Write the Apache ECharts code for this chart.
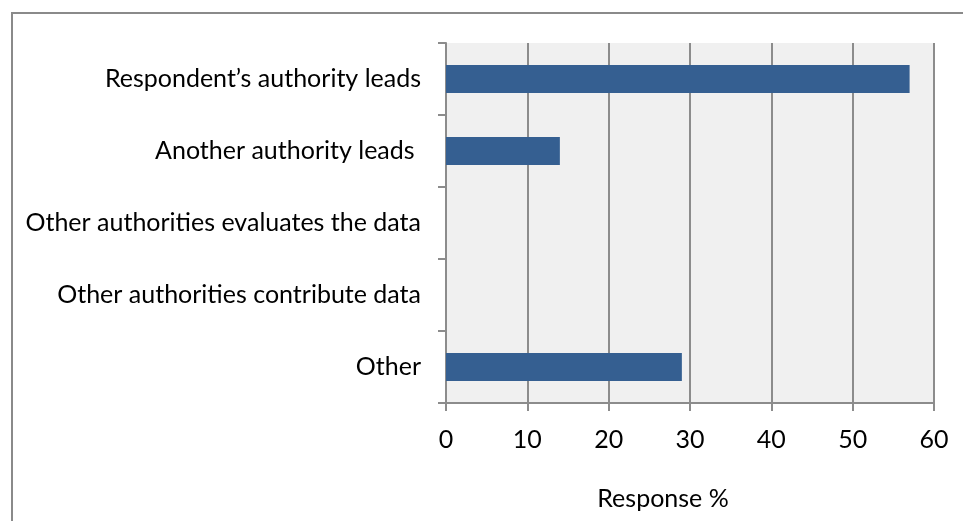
<!DOCTYPE html>
<html>
<head>
<meta charset="utf-8">
<script src="https://cdn.jsdelivr.net/npm/echarts@6/dist/echarts.min.js"></script>
<style>
html,body{margin:0;padding:0;background:#fff;}
#c{width:963px;height:521px;position:relative;}
#frame{position:absolute;left:11px;top:12px;width:960px;height:520px;border-left:2px solid #8a8a8a;border-top:2px solid #8a8a8a;box-sizing:border-box;pointer-events:none;}
</style>
</head>
<body>
<div id="c"></div>
<div id="frame"></div>
<script>
const categories = [
  "Respondent\u2019s authority leads",
  "Another authority leads ",
  "Other authorities evaluates the data",
  "Other authorities contribute data",
  "Other"
];
const values = [57, 14, 0, 0, 29];
const xTicks = [0, 10, 20, 30, 40, 50, 60];
const xTitle = "Response %";

const chart = echarts.init(document.getElementById('c'));
const font = "Lato, 'Open Sans', sans-serif";
chart.setOption({
  animation: false,
  grid: {left: 446, right: 29, top: 43, bottom: 118, containLabel: false,
         show: true, backgroundColor: '#f0f0f0', borderWidth: 0},
  xAxis: {
    type: 'value', min: xTicks[0], max: xTicks[xTicks.length - 1], interval: 10,
    name: xTitle, nameLocation: 'middle', nameGap: 83,
    nameTextStyle: {fontFamily: font, fontSize: 25, color: '#000', padding: [0, 54, 0, 0]},
    axisLine: {show: true, lineStyle: {color: '#8c8c8c', width: 2}},
    axisTick: {show: true, length: 8, lineStyle: {color: '#8c8c8c', width: 2}},
    axisLabel: {fontFamily: font, fontSize: 25, color: '#000', margin: 24},
    splitLine: {show: true, lineStyle: {color: '#8c8c8c', width: 2}}
  },
  yAxis: {
    type: 'category', data: categories, inverse: true,
    axisLine: {show: true, lineStyle: {color: '#8c8c8c', width: 2}},
    axisTick: {show: true, length: 8, lineStyle: {color: '#8c8c8c', width: 2}},
    axisLabel: {fontFamily: font, fontSize: 25, color: '#000', margin: 25},
    splitLine: {show: false}
  },
  series: [{
    type: 'bar', data: values, barWidth: '39%',
    itemStyle: {color: '#355f91', borderWidth: 0}
  }]
});
</script>
</body>
</html>
